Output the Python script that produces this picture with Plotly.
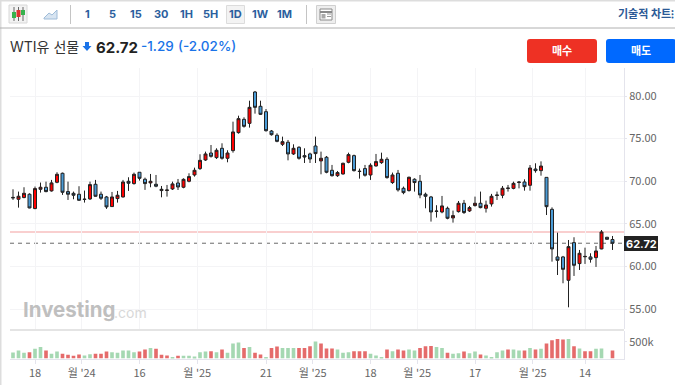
import plotly.graph_objects as go

W, H = 675, 385
# ---- data ----
opens = [68.10,67.88,68.08,68.47,66.79,69.05,69.29,68.86,69.87,70.93,68.78,68.58,68.47,67.90,67.92,69.64,68.47,68.15,67.02,67.96,
68.15,69.99,69.72,71.05,70.23,69.80,69.64,68.90,68.92,69.09,69.79,69.29,69.99,70.73,71.48,72.49,73.31,72.77,73.86,72.69,
73.59,75.70,77.26,76.79,80.47,78.79,78.16,75.89,75.39,74.33,74.57,73.20,73.98,73.00,73.20,74.13,72.38,72.81,71.28,70.65,
70.85,72.22,73.00,71.18,71.48,70.73,71.79,72.18,72.57,69.84,70.93,69.17,68.90,70.23,69.99,68.47,68.15,66.45,66.39,66.82,
65.69,66.43,67.41,66.51,67.14,67.41,66.82,67.33,68.33,68.35,69.15,69.16,69.85,69.91,69.52,71.43,71.24,70.45,66.70,61.11,
61.11,58.37,62.79,60.33,61.13,61.11,61.03,62.05,63.42,63.15]
closes = [68.05,68.23,68.58,66.86,69.13,69.29,68.78,69.80,70.81,68.70,68.47,68.35,67.76,67.86,69.60,68.23,68.00,66.98,68.15,68.35,
69.91,69.76,70.81,70.34,69.72,69.99,69.41,69.05,68.96,69.68,69.32,70.22,70.54,71.28,72.45,73.20,72.92,73.63,72.69,73.31,
75.78,77.34,76.44,78.67,78.67,77.85,75.93,75.46,74.68,74.64,73.20,73.86,72.69,72.84,72.61,73.24,72.69,71.05,70.65,71.01,
72.10,73.12,71.24,71.14,70.70,71.87,72.30,72.57,70.42,70.73,68.98,68.66,70.46,69.84,68.39,68.23,66.39,66.49,67.10,65.65,
65.96,67.41,66.32,66.90,67.41,66.90,67.21,68.23,68.37,69.17,69.19,69.75,69.89,69.36,71.55,71.24,71.78,67.01,62.05,60.72,
59.66,62.32,60.13,61.54,61.17,60.84,61.81,64.04,63.18,62.72]
highs = [69.05,68.78,69.29,68.58,69.37,69.84,69.95,70.15,71.05,71.01,69.95,68.78,69.41,68.90,69.95,70.15,68.78,68.27,68.74,68.86,
70.15,70.46,71.01,71.05,70.42,70.85,70.73,69.44,69.56,69.95,70.26,70.34,70.93,71.59,73.16,73.47,74.25,73.86,74.45,73.63,
76.99,77.69,77.50,79.45,80.59,79.45,78.47,76.01,75.62,75.23,74.84,74.33,74.10,73.86,73.35,75.23,73.47,72.96,71.91,71.20,
72.18,73.35,73.12,71.48,71.91,72.10,73.20,73.35,72.81,71.01,71.32,69.37,70.54,70.34,70.73,68.66,68.27,67.18,68.27,67.02,
66.55,67.68,67.80,67.10,68.19,68.78,67.72,68.51,68.78,69.44,69.56,69.95,70.02,70.22,71.90,72.10,72.33,70.45,66.93,63.96,
61.23,63.10,63.42,61.93,62.20,61.54,62.40,64.27,63.46,63.57]
lows = [67.80,66.90,68.00,66.82,66.71,68.66,68.70,68.78,69.76,68.39,67.80,67.88,67.68,67.49,67.80,68.19,67.80,66.75,66.98,67.49,
68.08,68.86,69.60,70.07,68.98,69.29,69.29,68.11,68.19,68.97,68.97,69.17,69.87,70.54,71.32,72.38,72.77,72.61,72.53,72.22,
73.35,75.58,76.29,76.29,77.93,77.77,75.82,75.35,74.57,74.13,72.45,73.08,72.53,72.14,72.14,72.14,70.81,70.93,70.54,70.50,
70.77,72.10,71.13,70.30,70.54,70.15,71.71,72.03,70.30,69.68,68.78,68.47,68.78,68.78,68.00,66.82,65.26,65.73,66.24,65.53,
65.14,66.32,66.16,66.39,67.02,66.82,66.32,67.02,67.80,68.00,68.78,69.05,69.16,68.89,68.89,71.00,70.65,66.03,60.56,58.99,
58.02,55.20,58.88,59.58,60.29,60.44,59.94,62.01,63.15,61.93]
volume_k = [180,240,170,190,290,350,240,140,210,140,110,80,120,90,130,140,140,210,190,170,
240,240,190,210,270,320,290,110,90,20,80,80,80,60,190,210,220,190,270,170,
450,480,320,350,170,120,20,320,360,320,320,320,320,320,370,510,450,300,300,270,
170,190,220,220,220,140,90,20,270,220,270,240,270,240,320,370,380,350,320,170,
140,160,210,160,210,120,90,20,190,240,270,270,240,240,320,270,290,450,550,590,
570,590,370,300,220,220,290,300,0,240]
sides = ["g","g","g","r","g","g","r","g","g","r","r","r","r","g","g","r","r","r","g","g",
 "g","g","g","r","r","g","r","r","r","g","r","g","g","g","g","g","r","g","r","g",
 "g","g","r","g","r","r","g","r","r","g","g","g","r","r","r","g","r","r","r","g",
 "g","g","r","r","r","g","g","g","r","g","r","r","g","g","r","r","r","g","g","r",
 "g","g","r","g","g","r","g","g","g","g","r","g","g","r","g","r","g","r","r","r",
 "r","g","r","g","r","r","g","g","g","r"]
dates_idx = list(range(110))
tick_pos = [4, 12.5, 23, 33.5, 46, 54.5, 65, 73.5, 84, 94.5, 104]
tick_text = ["18", "월 '24", "16", "월 '25", "21", "월 '25", "18", "월 '25", "17", "월 '25", "14"]
price_ticks = [55, 60, 65, 70, 75, 80]
last_price = 62.72
level_price = 64.04
volume_tick = [500000]
volume_tick_text = ["500k"]
timeframes = ["1", "5", "15", "30", "1H", "5H", "1D", "1W", "1M"]

# ---- pixel helpers (layout only) ----
def px(x): return x / W
def py(y): return 1 - y / H
PL, PR = 10, 624
MT, MB = 68, 329
VT, VB = 331, 358.5
RED, BLUE = "#ff0000", "#4a9bd6"

def rect(x0, y0, x1, y1, fill=None, line=None, lw=1):
    return dict(type="rect", xref="paper", yref="paper", x0=px(x0), x1=px(x1), y0=py(y0), y1=py(y1),
                fillcolor=fill or "rgba(0,0,0,0)", line=dict(color=line or "rgba(0,0,0,0)", width=lw if line else 0), layer="above")

def rrect(x0, y0, x1, y1, r, fill):
    X = lambda v: f"{px(v):.5f}"
    Y = lambda v: f"{py(v):.5f}"
    path = (f"M{X(x0+r)},{Y(y0)} L{X(x1-r)},{Y(y0)} Q{X(x1)},{Y(y0)} {X(x1)},{Y(y0+r)} L{X(x1)},{Y(y1-r)} "
            f"Q{X(x1)},{Y(y1)} {X(x1-r)},{Y(y1)} L{X(x0+r)},{Y(y1)} Q{X(x0)},{Y(y1)} {X(x0)},{Y(y1-r)} "
            f"L{X(x0)},{Y(y0+r)} Q{X(x0)},{Y(y0)} {X(x0+r)},{Y(y0)} Z")
    return dict(type="path", xref="paper", yref="paper", path=path, fillcolor=fill, line=dict(width=0), layer="above")

def seg(x0, y0, x1, y1, color, lw=1):
    return dict(type="line", xref="paper", yref="paper", x0=px(x0), x1=px(x1), y0=py(y0), y1=py(y1),
                line=dict(color=color, width=lw), layer="above")

fig = go.Figure()
fig.add_trace(go.Candlestick(
    x=dates_idx, open=opens, high=highs, low=lows, close=closes,
    xaxis="x2", yaxis="y", whiskerwidth=0, hoverinfo="skip",
    increasing=dict(line=dict(color="#222222", width=1), fillcolor=RED),
    decreasing=dict(line=dict(color="#222222", width=1), fillcolor=BLUE),
))
fig.add_trace(go.Bar(
    x=dates_idx, y=[v * 1000 for v in volume_k], xaxis="x", yaxis="y2", width=0.66,
    marker=dict(color=["#e56b6b" if s == "r" else "#a5d8b2" for s in sides], line=dict(width=0)),
    hoverinfo="skip",
))

xr = [(PL - 13) / 5.5, (PR - 13) / 5.5]
TICKF = dict(family="'Noto Sans CJK KR', 'Noto Sans', sans-serif", size=11, color="#666666")
HF = "Inter, 'Noto Sans CJK KR', sans-serif"

shapes = [
    rect(0, 0, 675, 1.5, fill="#dddddd"),
    rect(0, 0, 1.5, 385, fill="#dddddd"),
    seg(0, 28, 675, 28, "#b0b0b0", 1),
    seg(70.5, 5, 70.5, 24, "#c4c4c4", 1),
    seg(306.5, 5, 306.5, 24, "#c4c4c4", 1),
    rect(9, 5, 27, 23, fill="#f2f2f2", line="#d8d8d8"),
    seg(14, 7, 14, 21, "#666666", 1), seg(18.5, 7, 18.5, 21, "#666666", 1), seg(23, 7, 23, 21, "#666666", 1),
    rect(12, 12, 16, 18, fill="#37b24d"), rect(16.5, 10, 20.5, 17, fill="#e03131"), rect(21, 10, 25, 15, fill="#37b24d"),
    dict(type="path", xref="paper", yref="paper",
         path=f"M{px(44)},{py(18)} L{px(49)},{py(13)} L{px(52)},{py(15)} L{px(57)},{py(10)} L{px(57)},{py(19)} L{px(44)},{py(19)} Z",
         fillcolor="#d7e4f1", line=dict(color="#9fbcd8", width=1), layer="above"),
    rect(226.5, 5.5, 244.5, 23.5, fill="#f3f3f3", line="#dcdcdc"),
    rect(316.5, 5.5, 335.5, 23.5, fill="#eeeeee", line="#d0d0d0"),
    rect(320, 9, 332, 20, fill="#ffffff", line="#8a8a8a"),
    seg(320, 12, 332, 12, "#8a8a8a", 2), seg(327, 14, 331, 14, "#9a9a9a", 1), seg(327, 16.5, 331, 16.5, "#9a9a9a", 1),
    rect(321.5, 14, 325.5, 18.5, fill="#aaaaaa"),
    rrect(527, 39, 597, 63, 3, "#ee3124"),
    rrect(606, 39, 676, 63, 3, "#0069ff"),
    dict(type="path", xref="paper", yref="paper",
         path=f"M{px(85)},{py(42)} L{px(89)},{py(42)} L{px(89)},{py(46)} L{px(91.5)},{py(46)} L{px(87)},{py(51)} L{px(82.5)},{py(46)} L{px(85)},{py(46)} Z",
         fillcolor="#1a73e8", line=dict(width=0), layer="above"),
    rect(PL, 329, PR, 331, fill="#e4e4e4"),
    dict(type="line", xref="x2", yref="y", x0=xr[0], x1=xr[1], y0=level_price, y1=level_price,
         line=dict(color="#f9cfcf", width=2), layer="below"),
    dict(type="line", xref="x2", yref="y", x0=xr[0], x1=xr[1], y0=last_price, y1=last_price,
         line=dict(color="#6a6a6a", width=1, dash="4px,4px"), layer="below"),
    dict(type="rect", xref="paper", yref="paper", x0=px(624), x1=px(658), y0=py(251), y1=py(236),
         fillcolor="#222222", line=dict(width=0), layer="above"),
]

def T(x, y, s, size, color, weight=None, anchor="center", fam=HF):
    return dict(xref="paper", yref="paper", x=px(x), y=py(y), text=s,
                showarrow=False, xanchor=anchor, yanchor="middle",
                font=dict(family=fam, size=size, color=color, weight=weight or 400))

tf_x = [87, 112, 136, 161, 186, 210, 235, 260, 284]
ann = [T(x, 14.5, s, 11, "#2c5f9e", 700) for x, s in zip(tf_x, timeframes)]
ann += [
    T(616, 14, "기술적 차트", 11, "#2c5a96", 700, "left"),
    T(669, 14, "⁝", 11, "#2c5a96", 700, "left"),
    T(8, 46, "WTI유 선물", 14, "#333333", None, "left"),
    T(94, 47, "62.72", 15, "#222222", 700, "left"),
    T(139, 46, "-1.29", 13.5, "#1a73e8", 500, "left"),
    T(176, 46, "(-2.02%)", 13.5, "#1a73e8", 500, "left"),
    T(562, 51, "매수", 11, "#ffffff", 700),
    T(640.5, 51, "매도", 11, "#ffffff", 700),
    T(641, 243.5, f"{last_price:.2f}", 11, "#ffffff", 700),
    T(21, 309, "<b>Investing</b>", 20.5, "#bfbfbf", None, "left", fam="Inter, 'Open Sans', sans-serif"),
    T(112, 312, ".com", 14, "#d8d8d8", None, "left", fam="Inter, 'Open Sans', sans-serif"),
]

fig.update_layout(
    width=W, height=H, margin=dict(l=0, r=0, t=0, b=0), paper_bgcolor="#ffffff", plot_bgcolor="#ffffff",
    showlegend=False, boxgap=0.22, shapes=shapes, annotations=ann,
    xaxis=dict(domain=[px(PL), px(PR)], range=xr, anchor="y2", tickvals=tick_pos, ticktext=tick_text, tickfont=TICKF,
               showgrid=False, zeroline=False, showline=True, linecolor="#e4e4ec", ticks="outside", ticklen=4, tickcolor="#e4e4ec",
               rangeslider=dict(visible=False), fixedrange=True),
    xaxis2=dict(domain=[px(PL), px(PR)], range=xr, anchor="y", tickvals=tick_pos, showticklabels=False, ticks="",
                showgrid=True, gridcolor="#f4f4f6", zeroline=False, showline=False,
                rangeslider=dict(visible=False), fixedrange=True),
    yaxis=dict(domain=[py(MB), py(MT)], range=[80 - (MB - 96) / 8.52, 80 + (96 - MT) / 8.52], anchor="x2", side="right",
               tickvals=price_ticks, ticktext=[f"{v:.2f}" for v in price_ticks], tickfont=TICKF,
               showgrid=True, gridcolor="#f4f4f6", zeroline=False, showline=True, linecolor="#e4e4ec",
               ticks="outside", ticklen=2, tickcolor="#e4e4ec", fixedrange=True),
    yaxis2=dict(domain=[py(VB), py(VT)], range=[0, (VB - VT) / 16.6 * 500000], anchor="x", side="right",
                tickvals=volume_tick, ticktext=volume_tick_text, tickfont=TICKF, showgrid=False, zeroline=False,
                showline=True, linecolor="#e4e4ec", ticks="outside", ticklen=2, tickcolor="#e4e4ec", fixedrange=True),
)

fig.write_html("out.html", config=dict(displayModeBar=False),
               post_script="document.body.style.margin='0';document.documentElement.style.overflow='hidden';")
